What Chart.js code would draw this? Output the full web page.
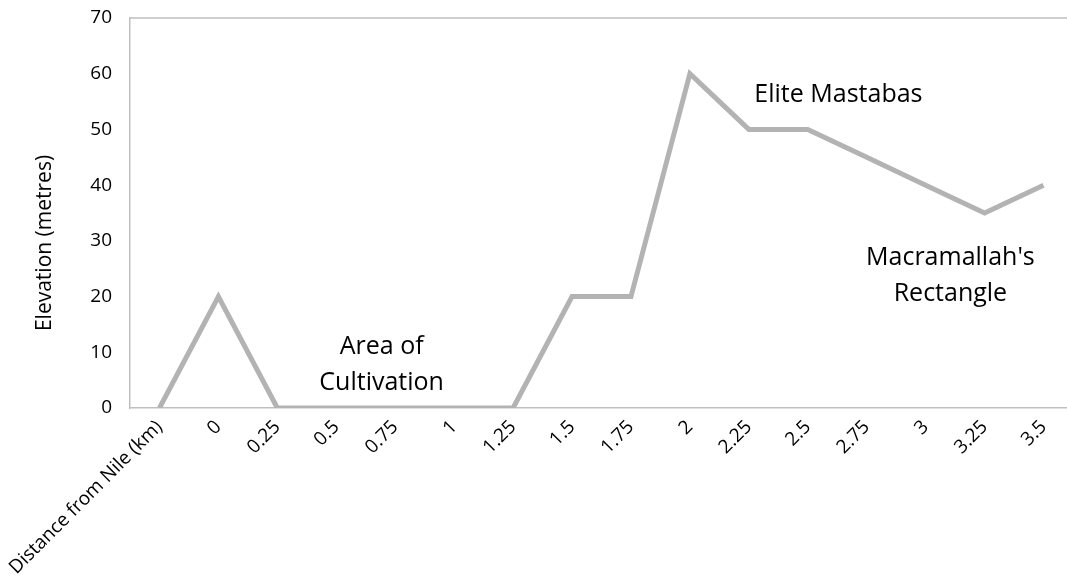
<!DOCTYPE html>
<html>
<head>
<meta charset="utf-8">
<script src="https://cdn.jsdelivr.net/npm/chart.js@4/dist/chart.umd.min.js"></script>
<style>
  html, body { margin: 0; padding: 0; background: #fff; overflow: hidden; }
  #wrap { width: 1073px; height: 579px; }
</style>
</head>
<body>
<div id="wrap"><canvas id="grafico" width="1073" height="579"></canvas></div>
<script>
// categorias e valores
const distancias = ["Distance from Nile (km)", "0", "0.25", "0.5", "0.75", "1", "1.25", "1.5",
    "1.75", "2", "2.25", "2.5", "2.75", "3", "3.25", "3.5"];
const elevacao = [0, 20, 0, 0, 0, 0, 0, 20, 20, 60, 50, 50, 45, 40, 35, 40];
const ticksY = [0, 10, 20, 30, 40, 50, 60, 70];
const tituloY = "Elevation (metres)";

// rótulos de texto dentro do gráfico (posição em unidades do eixo)
const rotulosTexto = [["Area of", "Cultivation"], ["Elite Mastabas"], ["Macramallah's", "Rectangle"]];
const rotulosIndice = [3.77, 11.52, 13.42];
const rotulosValor = [10.95, 56.15, 26.95];

const FONTE = "'Open Sans', sans-serif";

// ==========================================
// moldura, título do eixo Y e textos
// ==========================================
const pluginExtras = {
    id: "extras",
    afterDraw(chart) {
        const c = chart.ctx;
        const a = chart.chartArea;
        c.save();
        c.strokeStyle = "#bfbfbf";
        c.lineWidth = 1.5;
        c.beginPath();
        c.moveTo(a.left, a.top);
        c.lineTo(a.right, a.top);
        c.lineTo(a.right, a.bottom);
        c.stroke();

        // título do eixo Y (no Excel fica um pouco abaixo do centro)
        c.fillStyle = "#000";
        c.font = "21px " + FONTE;
        c.textAlign = "center";
        c.textBaseline = "middle";
        c.save();
        c.translate(45, (a.top + a.bottom) / 2 + 30);
        c.rotate(-Math.PI / 2);
        c.fillText(tituloY, 0, 0);
        c.restore();

        c.font = "25px " + FONTE;
        const sx = chart.scales.x, sy = chart.scales.y;
        rotulosTexto.forEach(function (linhas, i) {
            const px = sx.getPixelForValue(rotulosIndice[i]);
            const py = sy.getPixelForValue(rotulosValor[i]);
            linhas.forEach(function (t, j) {
                c.fillText(t, px, py + j * 36);
            });
        });
        c.restore();
    }
};

new Chart(document.getElementById("grafico"), {
    type: "line",
    data: {
        labels: distancias,
        datasets: [{
            data: elevacao,
            borderColor: "#b3b3b3",
            borderWidth: 5,
            pointRadius: 0,
            tension: 0,
            borderJoinStyle: "miter"
        }]
    },
    options: {
        responsive: false,
        animation: false,
        layout: { padding: { top: 18, right: 0, bottom: 0, left: 0 } },
        plugins: {
            legend: { display: false },
            tooltip: { enabled: false }
        },
        scales: {
            x: {
                offset: true,
                afterFit: function (eixo) {
                    eixo.height = 171;
                    eixo.paddingLeft = 0;
                    eixo.paddingRight = 0;
                },
                grid: { display: false, drawTicks: false },
                border: { display: true, color: "#bfbfbf", width: 1.5 },
                ticks: {
                    autoSkip: false,
                    maxRotation: 45,
                    minRotation: 45,
                    padding: 8,
                    color: "#000",
                    font: { family: FONTE, size: 19 }
                }
            },
            y: {
                min: 0,
                max: 70,
                afterBuildTicks: function (eixo) {
                    eixo.ticks = ticksY.map(function (v) { return { value: v }; });
                },
                afterFit: function (eixo) {
                    eixo.width = 130;
                    eixo.paddingTop = 0;
                    eixo.paddingBottom = 0;
                },
                grid: { display: false, drawTicks: false },
                border: { display: true, color: "#bfbfbf", width: 1.5 },
                ticks: {
                    padding: 18,
                    color: "#000",
                    font: { family: FONTE, size: 19 }
                }
            }
        }
    },
    plugins: [pluginExtras]
});
</script>
</body>
</html>
